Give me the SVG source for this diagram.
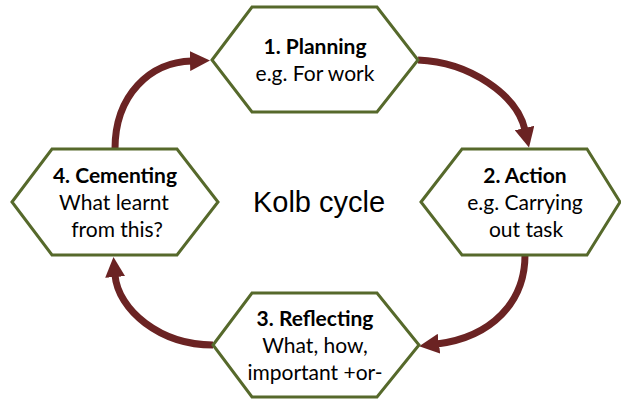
<svg xmlns="http://www.w3.org/2000/svg" width="621" height="400" viewBox="0 0 621 400">
  <style>
    .hex { fill: #ffffff; stroke: #56692b; stroke-width: 3; stroke-linejoin: miter; }
    .arc { fill: none; stroke: #6b2323; stroke-width: 7; marker-end: url(#head); }
    .t { font-family: Lato, "Open Sans", sans-serif; font-size: 21px; fill: #000000; text-anchor: middle; }
    .b { font-weight: bold; }
    .title { font-family: "Liberation Sans", Arial, sans-serif; font-size: 29px; fill: #000000; text-anchor: middle; }
  </style>
  <defs>
    <marker id="head" viewBox="0 0 20 20" refX="2" refY="10" markerWidth="20" markerHeight="20" markerUnits="userSpaceOnUse" orient="auto">
      <path d="M0,0 L20,10 L0,20 z" fill="#6b2323"/>
    </marker>
  </defs>
  <rect width="621" height="400" fill="#ffffff"/>

  <g id="connectors">
    <path class="arc" d="M115,149 C115,95 150,62 192,61"/>
    <path class="arc" d="M418,60 C470,62 517,95 525,130"/>
    <path class="arc" d="M525,255 C525,302 492,337 437,344"/>
    <path class="arc" d="M213,345 C160,345 118,310 115,275"/>
  </g>

  <g id="node-planning">
    <polygon class="hex" points="212,60 252,7 377,7 418,60 377,112 252,112"/>
    <text class="t b" x="315" y="54">1. Planning</text>
    <text class="t" x="315" y="81">e.g. For work</text>
  </g>

  <g id="node-action">
    <polygon class="hex" points="421,202 462,149 587,149 620,202 587,255 462,255"/>
    <text class="t b" x="525" y="183">2. Action</text>
    <text class="t" x="525" y="210">e.g. Carrying</text>
    <text class="t" x="526" y="237">out task</text>
  </g>

  <g id="node-reflecting">
    <polygon class="hex" points="213,345 252,293 377,293 419,345 377,397 252,397"/>
    <text class="t b" x="315" y="326">3. Reflecting</text>
    <text class="t" x="315" y="353">What, how,</text>
    <text class="t" x="315" y="380">important +or-</text>
  </g>

  <g id="node-cementing">
    <polygon class="hex" points="12,202 52,149 177,149 218,202 177,255 52,255"/>
    <text class="t b" x="115" y="183">4. Cementing</text>
    <text class="t" x="114" y="210">What learnt</text>
    <text class="t" x="117" y="237">from this?</text>
  </g>

  <g id="label-title">
    <text class="title" x="319" y="212">Kolb cycle</text>
  </g>
</svg>
